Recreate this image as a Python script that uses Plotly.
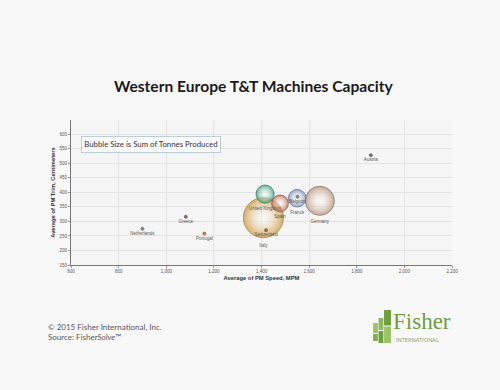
import plotly.graph_objects as go

# ---- data ----
countries = ["Italy", "Germany", "United Kingdom", "France", "Spain",
             "Switzerland", "Belgium", "Netherlands", "Greece", "Portugal", "Austria"]
pm_speed = [1408, 1645, 1415, 1550, 1478, 1419, 1551, 900, 1082, 1160, 1859]
pm_trim = [313, 371, 394, 380, 362, 270, 385, 275, 316, 258, 528]
tonnes = [1700, 900, 350, 330, 300, 8, 8, 8, 9, 9, 8]
colors = ["#d4a24f", "#c09a84", "#45a283", "#8598b8", "#c47155",
          "#8a7048", "#6a7a90", "#777777", "#8a4a40", "#c0703a", "#666666"]
edge_colors = ["#8f6e38", "#76625a", "#2a7058", "#56688a", "#844634",
               "#5a4a30", "#4d5a6a", "#555555", "#6a3a30", "#8a5030", "#444444"]
x_ticks = [600, 800, 1000, 1200, 1400, 1600, 1800, 2000, 2200]
y_ticks = [150, 200, 250, 300, 350, 400, 450, 500, 550, 600]

max_d = 40
sizeref = 2 * max(tonnes) / (max_d ** 2)
grad_types = ["radial" if t > 100 else "none" for t in tonnes]

fig = go.Figure()
fig.add_trace(go.Scatter(
    x=pm_speed, y=pm_trim, mode="markers+text",
    text=countries, textposition="bottom center",
    textfont=dict(family="Liberation Sans", size=4.5, color="#555555"),
    marker=dict(size=tonnes, sizemode="area", sizeref=sizeref, sizemin=1.5,
                color=colors, opacity=0.85,
                gradient=dict(type=grad_types, color="rgba(255,255,255,0.3)"),
                line=dict(color=edge_colors, width=0.8)),
    hoverinfo="skip", showlegend=False, cliponaxis=False,
))

# plot area in pixels
L, R, T, B = 70.7, 452.0, 120.0, 265.0
W, H = 500, 390


def px(xp):
    return (xp - L) / (R - L)


def py(yp):
    return (B - yp) / (B - T)


shapes = []
# logo blocks
blocks = [
    (384, 310, 391, 325.5, "#6f9e3c"), (384, 326.5, 391, 343, "#9cc36a"),
    (378.5, 318, 383.3, 330, "#8db75a"), (378.5, 331, 383.3, 343, "#6f9e3c"),
    (373, 323, 377.8, 333, "#9cc36a"), (373, 334, 377.8, 341, "#82ae4e"),
]
for x0, y0, x1, y1, c in blocks:
    shapes.append(dict(type="rect", xref="paper", yref="paper",
                       x0=px(x0), x1=px(x1), y0=py(y1), y1=py(y0),
                       line=dict(width=0), fillcolor=c, layer="above"))

annotations = [
    dict(text="<b>Western Europe T&T Machines Capacity</b>", xref="paper", yref="paper",
         x=px(253.5), y=py(86), xanchor="center", yanchor="middle", showarrow=False,
         font=dict(family="Lato", size=15.6, color="#1a1a1a")),
    dict(text="Bubble Size is Sum of Tonnes Produced", xref="paper", yref="paper",
         x=px(81), y=py(144.2), xanchor="left", yanchor="middle", showarrow=False,
         font=dict(family="Lato", size=7.8, color="#333333"),
         bordercolor="#a9c4d0", borderwidth=0.8, borderpad=2.5, bgcolor="#fbfbfb"),
    dict(text="© 2015 Fisher International, Inc.<br>Source: Fisher<i>Solve</i>™",
         xref="paper", yref="paper", x=px(46), y=py(332), xanchor="left", yanchor="middle",
         align="left", showarrow=False,
         font=dict(family="Lato", size=8, color="#555555")),
    dict(text="Fisher", xref="paper", yref="paper", x=px(391), y=py(321),
         xanchor="left", yanchor="middle", showarrow=False,
         font=dict(family="Liberation Serif", size=23, color="#6f9e3c")),
    dict(text="INTERNATIONAL", xref="paper", yref="paper", x=px(393.5), y=py(340),
         xanchor="left", yanchor="middle", showarrow=False,
         font=dict(family="Open Sans", size=5.6, color="#7f9a6a")),
]

fig.update_layout(
    width=W, height=H,
    margin=dict(l=L, r=W - R, t=T, b=H - B),
    paper_bgcolor="#f9f8f9", plot_bgcolor="#f6f5f6",
    shapes=shapes, annotations=annotations,
    xaxis=dict(range=[600, 2200], tickvals=x_ticks, tickformat=",",
               tickfont=dict(family="Liberation Sans", size=4.5, color="#555555"),
               showgrid=True, gridcolor="#e4e3e4", gridwidth=1,
               showline=True, linecolor="#777777", linewidth=1,
               ticks="outside", ticklen=2, tickcolor="#999999",
               zeroline=False,
               title=dict(text="<b>Average of PM Speed, MPM</b>", standoff=2,
                          font=dict(family="Liberation Sans", size=5.8, color="#333333"))),
    yaxis=dict(range=[150, 649], tickvals=y_ticks,
               tickfont=dict(family="Liberation Sans", size=4.5, color="#555555"),
               showgrid=True, gridcolor="#e4e3e4", gridwidth=1,
               showline=True, linecolor="#777777", linewidth=1,
               ticks="outside", ticklen=2, tickcolor="#999999",
               zeroline=False,
               title=dict(text="<b>Average of PM Trim, Centimeters</b>", standoff=3,
                          font=dict(family="Liberation Sans", size=5.8, color="#333333"))),
)

fig.write_html("out.html")
